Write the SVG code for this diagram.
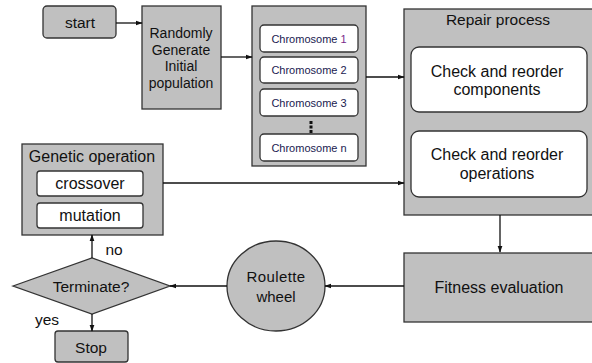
<svg xmlns="http://www.w3.org/2000/svg" width="592" height="363" viewBox="0 0 592 363">
<style>
.g{fill:#c0c0c0;stroke:#333;stroke-width:1.3}
.w{fill:#fff;stroke:#333;stroke-width:1.3}
.t{font-family:"Liberation Sans",Arial,sans-serif;fill:#111;text-anchor:middle}
.c{font-size:11px;fill:#1a1a50}
.l{fill:none;stroke:#111;stroke-width:1.3}
</style>
<defs>
<marker id="a" viewBox="0 0 10 10" refX="9" refY="5" markerWidth="7" markerHeight="7" orient="auto" markerUnits="userSpaceOnUse"><path d="M0,1.5 L10,5 L0,8.5 z" fill="#111"/></marker>
</defs>
<rect width="592" height="363" fill="#fff"/>
<g id="start"><rect class="g" x="43" y="6" width="73" height="32" rx="4"/><text class="t" x="80" y="28" font-size="15.5">start</text></g>
<g id="init"><rect class="g" x="142" y="6" width="79" height="103"/>
<text class="t" font-size="14"><tspan x="181" y="38">Randomly</tspan><tspan x="181" y="55">Generate</tspan><tspan x="181" y="71">Initial</tspan><tspan x="181" y="88">population</tspan></text></g>
<g id="population"><rect class="g" x="252" y="6" width="114" height="160"/>
<rect class="w" x="260" y="25" width="98" height="27" rx="4"/><text class="t c" x="309" y="43">Chromosome <tspan fill="#7a2a8a">1</tspan></text>
<rect class="w" x="260" y="57" width="98" height="26" rx="4"/><text class="t c" x="309" y="74">Chromosome 2</text>
<rect class="w" x="260" y="89" width="98" height="27" rx="4"/><text class="t c" x="309" y="107">Chromosome 3</text>
<g fill="#111"><rect x="309.5" y="121" width="3" height="3"/><rect x="309.5" y="125.5" width="3" height="3"/><rect x="309.5" y="130" width="3" height="3"/></g>
<rect class="w" x="260" y="134" width="98" height="27" rx="4"/><text class="t c" x="309" y="152">Chromosome n</text></g>
<g id="repair"><rect class="g" x="404" y="9" width="195" height="206"/>
<text class="t" x="498" y="25" font-size="15.5">Repair process</text>
<rect class="w" x="411" y="47" width="176" height="65" rx="8"/>
<text class="t" font-size="16"><tspan x="497" y="77">Check and reorder</tspan><tspan x="497" y="95">components</tspan></text>
<rect class="w" x="411" y="131" width="176" height="66" rx="8"/>
<text class="t" font-size="16"><tspan x="497" y="160">Check and reorder</tspan><tspan x="497" y="179">operations</tspan></text></g>
<g id="genetic"><rect class="g" x="22" y="144" width="141" height="91"/>
<text class="t" x="92" y="162" font-size="16">Genetic operation</text>
<rect class="w" x="37" y="171" width="106" height="25" rx="3"/><text class="t" x="90" y="189" font-size="16">crossover</text>
<rect class="w" x="37" y="203" width="106" height="25" rx="3"/><text class="t" x="90" y="221" font-size="16">mutation</text></g>
<g id="terminate"><polygon class="g" points="13,286 92,258 170,286 92,314"/><text class="t" x="91" y="292" font-size="15.5">Terminate?</text></g>
<g id="stop"><rect class="g" x="55" y="331" width="73" height="31" rx="3"/><text class="t" x="91" y="353" font-size="15.5">Stop</text></g>
<g id="roulette"><ellipse class="g" cx="276" cy="286" rx="49" ry="45"/>
<text class="t" font-size="15"><tspan x="276" y="282" letter-spacing="0.4">Roulette</tspan><tspan x="276" y="302">wheel</tspan></text></g>
<g id="fitness"><rect class="g" x="404" y="253" width="195" height="69"/><text class="t" x="499" y="293" font-size="16">Fitness evaluation</text></g>
<g id="connectors">
<line class="l" x1="116" y1="23" x2="142" y2="23" marker-end="url(#a)"/>
<line class="l" x1="221" y1="57" x2="252" y2="57" marker-end="url(#a)"/>
<line class="l" x1="366" y1="77" x2="404" y2="77" marker-end="url(#a)"/>
<line class="l" x1="163" y1="183" x2="404" y2="183" marker-end="url(#a)"/>
<line class="l" x1="500" y1="215" x2="500" y2="252" marker-end="url(#a)"/>
<line class="l" x1="404" y1="286" x2="325" y2="286" marker-end="url(#a)"/>
<line class="l" x1="227" y1="286" x2="170" y2="286" marker-end="url(#a)"/>
<line class="l" x1="92" y1="258" x2="92" y2="235" marker-end="url(#a)"/>
<line class="l" x1="92" y1="314" x2="92" y2="331" marker-end="url(#a)"/>
<text class="t" x="114" y="255" font-size="15.5">no</text>
<text class="t" x="47" y="325" font-size="15.5">yes</text>
</g>
</svg>
